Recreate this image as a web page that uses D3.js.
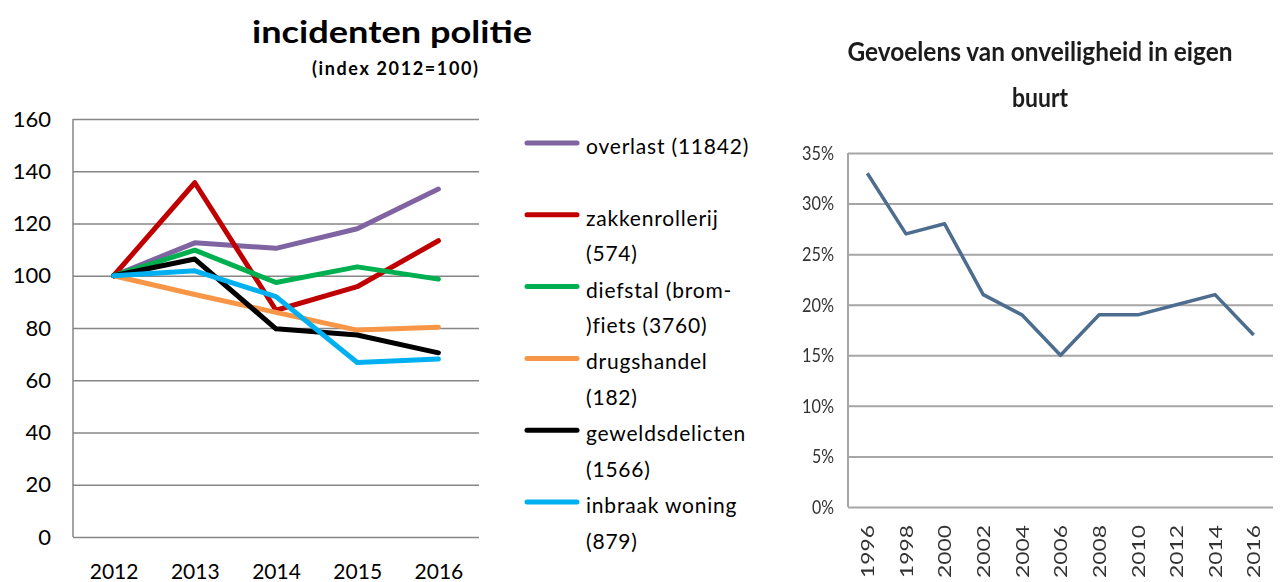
<!DOCTYPE html>
<html>
<head>
<meta charset="utf-8">
<script src="https://cdn.jsdelivr.net/npm/d3@7"></script>
<style>
  body { margin: 0; background: #fff; }
  svg { display: block; font-family: Lato, "Open Sans", sans-serif; }
</style>
</head>
<body>
<script>
// left chart data: police incidents, index 2012 = 100
var years = ["2012", "2013", "2014", "2015", "2016"];
var seriesNames = ["overlast (11842)", "zakkenrollerij (574)", "diefstal (brom-)fiets (3760)",
                   "drugshandel (182)", "geweldsdelicten (1566)", "inbraak woning (879)"];
// legend labels as they wrap in the picture
var legendLines = [["overlast (11842)"], ["zakkenrollerij", "(574)"], ["diefstal (brom-", ")fiets (3760)"],
                   ["drugshandel", "(182)"], ["geweldsdelicten", "(1566)"], ["inbraak woning", "(879)"]];
var seriesColors = ["#8064a2", "#c00000", "#00b050", "#f79646", "#000000", "#00b0f0"];
var overlast = [100, 112.6, 110.5, 118, 133.2];
var zakkenrollerij = [100, 135.6, 86.8, 95.8, 113.4];
var diefstal = [100, 109.8, 97.4, 103.4, 98.7];
var drugshandel = [100, 92.8, 86, 79.2, 80.3];
var geweld = [100, 106.4, 79.7, 77.3, 70.5];
var inbraak = [100, 101.9, 92, 66.8, 68.1];
var indexTicks = [0, 20, 40, 60, 80, 100, 120, 140, 160];

// right chart data: feelings of unsafety in own neighbourhood
var surveyYears = ["1996", "1998", "2000", "2002", "2004", "2006", "2008", "2010", "2012", "2014", "2016"];
var onveilig = [0.33, 0.27, 0.28, 0.21, 0.19, 0.15, 0.19, 0.19, 0.20, 0.21, 0.17];
var pctTicks = [0, 0.05, 0.10, 0.15, 0.20, 0.25, 0.30, 0.35];

WIDTH = 1280;
HEIGHT = 582;

var svg = d3.select("body").append("svg")
    .attr("width", WIDTH)
    .attr("height", HEIGHT);

// ---------- left chart ----------
var L = {left: 73, right: 479, top: 119, bottom: 537};

var xLeft = d3.scalePoint().domain(years).range([L.left, L.right]).padding(0.5);
var yLeft = d3.scaleLinear().domain([0, 160]).range([L.bottom, L.top]);

svg.append("text")
    .attr("x", 392).attr("y", 43)
    .attr("text-anchor", "middle")
    .attr("font-size", "31px").attr("font-weight", "bold")
    .attr("textLength", 280).attr("lengthAdjust", "spacingAndGlyphs")
    .text("incidenten politie");

svg.append("text")
    .attr("x", 395).attr("y", 75)
    .attr("text-anchor", "middle")
    .attr("font-size", "18px").attr("font-weight", "bold")
    .attr("textLength", 166).attr("lengthAdjust", "spacing")
    .text("(index 2012=100)");

var yAxisLeft = svg.append("g")
    .attr("transform", "translate(" + L.left + ",0)")
    .call(d3.axisLeft(yLeft).tickValues(indexTicks).tickSize(-(L.right - L.left)).tickPadding(22));
yAxisLeft.select(".domain").remove();
yAxisLeft.selectAll("line").attr("stroke", "#868686").attr("stroke-width", 1.5);
yAxisLeft.selectAll("text").attr("font-size", "22px").attr("fill", "#000")
    .attr("font-family", "Lato, sans-serif");

svg.append("line")
    .attr("x1", L.left).attr("x2", L.left)
    .attr("y1", L.top).attr("y2", L.bottom)
    .attr("stroke", "#868686").attr("stroke-width", 1.5);

var xAxisLeft = svg.append("g")
    .attr("transform", "translate(0," + L.bottom + ")")
    .call(d3.axisBottom(xLeft).tickSize(0).tickPadding(27));
xAxisLeft.select(".domain").remove();
xAxisLeft.selectAll("text").attr("font-size", "21px").attr("fill", "#000")
    .attr("font-family", "Lato, sans-serif");

var lineLeft = d3.line()
    .x(function(d, i) { return xLeft(years[i]); })
    .y(function(d) { return yLeft(d); });

var allSeries = [overlast, zakkenrollerij, diefstal, drugshandel, geweld, inbraak];
// draw order as in the picture: inbraak on top
var drawOrder = [0, 1, 3, 2, 4, 5];
drawOrder.forEach(function(k) {
    svg.append("path")
        .attr("d", lineLeft(allSeries[k]))
        .attr("fill", "none")
        .attr("stroke", seriesColors[k])
        .attr("stroke-width", 5)
        .attr("stroke-linejoin", "round")
        .attr("stroke-linecap", "round")
        .attr("data-legend", seriesNames[k]);
});

// legend
var legendY = d3.scaleLinear().domain([0, 5]).range([143, 502]);
legendLines.forEach(function(lines, k) {
    var y = legendY(k);
    svg.append("line")
        .attr("x1", 527).attr("x2", 577)
        .attr("y1", y).attr("y2", y)
        .attr("stroke", seriesColors[k])
        .attr("stroke-width", 5)
        .attr("stroke-linecap", "round");
    lines.forEach(function(t, j) {
        svg.append("text")
            .attr("x", 586).attr("y", y + 11 + j * 35.5)
            .attr("font-size", "21px")
            .attr("letter-spacing", "0.8px")
            .text(t);
    });
});

// ---------- right chart ----------
var R = {left: 848, right: 1273, top: 153, bottom: 507};

var defs = svg.append("defs");
defs.append("filter").attr("id", "soft")
    .append("feGaussianBlur").attr("stdDeviation", 0.6);

var right = svg.append("g").attr("filter", "url(#soft)");

var xRight = d3.scalePoint().domain(surveyYears).range([R.left, R.right]).padding(0.5);
var yRight = d3.scaleLinear().domain([0, 0.35]).range([R.bottom, R.top]);

right.append("text")
    .attr("x", 1040).attr("y", 61)
    .attr("text-anchor", "middle")
    .attr("font-size", "27px").attr("font-weight", "bold").attr("fill", "#1a1a1a")
    .attr("textLength", 385).attr("lengthAdjust", "spacingAndGlyphs")
    .text("Gevoelens van onveiligheid in eigen");

right.append("text")
    .attr("x", 1040).attr("y", 107)
    .attr("text-anchor", "middle")
    .attr("font-size", "27px").attr("font-weight", "bold").attr("fill", "#1a1a1a")
    .attr("textLength", 56).attr("lengthAdjust", "spacingAndGlyphs")
    .text("buurt");

var yAxisRight = right.append("g")
    .attr("transform", "translate(" + R.left + ",0)")
    .call(d3.axisLeft(yRight).tickValues(pctTicks).tickFormat(d3.format(".0%"))
        .tickSize(-(R.right - R.left)).tickPadding(14));
yAxisRight.select(".domain").remove();
yAxisRight.selectAll("line").attr("stroke", "#a6a6a6").attr("stroke-width", 2);
yAxisRight.selectAll("text").attr("font-size", "20px").attr("fill", "#333")
    .attr("font-family", "Lato, sans-serif")
    .attr("textLength", function(d) { return d < 0.1 ? 22 : 32; })
    .attr("lengthAdjust", "spacingAndGlyphs");

right.append("line")
    .attr("x1", R.left).attr("x2", R.left)
    .attr("y1", R.top).attr("y2", R.bottom)
    .attr("stroke", "#a6a6a6").attr("stroke-width", 2);

var xAxisRight = right.append("g")
    .attr("transform", "translate(0," + R.bottom + ")")
    .call(d3.axisBottom(xRight).tickSize(0));
xAxisRight.select(".domain").remove();
xAxisRight.selectAll("text")
    .attr("font-size", "18px").attr("fill", "#333")
    .attr("font-family", "Lato, sans-serif")
    .attr("text-anchor", "end")
    .attr("dy", "0.35em")
    .attr("transform", "translate(0,18) rotate(-90)")
    .attr("y", 0).attr("x", 0)
    .attr("textLength", 53).attr("lengthAdjust", "spacingAndGlyphs");

var lineRight = d3.line()
    .x(function(d, i) { return xRight(surveyYears[i]); })
    .y(function(d) { return yRight(d); });

right.append("path")
    .attr("d", lineRight(onveilig))
    .attr("fill", "none")
    .attr("stroke", "#4d6d8f")
    .attr("stroke-width", 3.5)
    .attr("stroke-linejoin", "round");
</script>
</body>
</html>
